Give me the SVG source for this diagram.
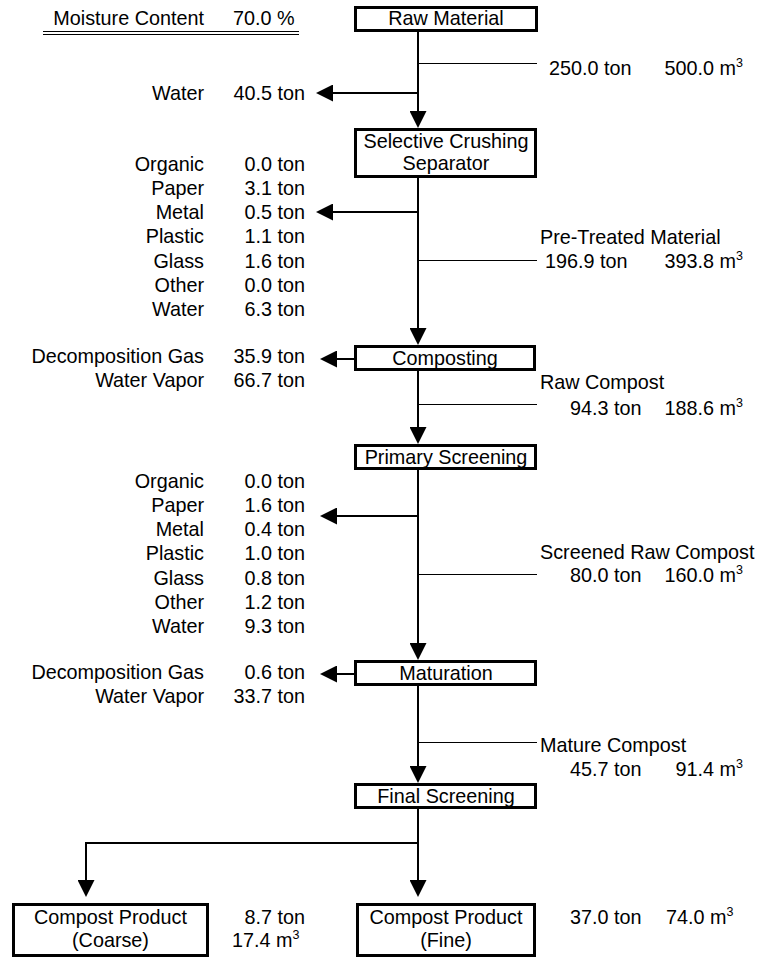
<svg xmlns="http://www.w3.org/2000/svg" width="758" height="959" viewBox="0 0 758 959">
<style>
text{font-family:"Liberation Sans",Arial,sans-serif;font-size:19.8px;fill:#000}
.r{text-anchor:end}
.m{text-anchor:middle}
.box{fill:#fff;stroke:#000;stroke-width:3}
.flow{fill:none;stroke:#000;stroke-width:2}
.thin{fill:none;stroke:#000;stroke-width:1}
.sup{font-size:12.5px}
</style>
<defs>
<marker id="ah" viewBox="0 0 17 17" refX="15" refY="8.5" markerWidth="17" markerHeight="17" markerUnits="userSpaceOnUse" orient="auto">
<path d="M0,0 L17,8.5 L0,17 z" fill="#000"/>
</marker>
</defs>

<g id="connectors">
<path class="flow" d="M418,32 V126" marker-end="url(#ah)"/>
<path class="flow" d="M418,178 V343" marker-end="url(#ah)"/>
<path class="flow" d="M418,371 V442" marker-end="url(#ah)"/>
<path class="flow" d="M418,470 V658" marker-end="url(#ah)"/>
<path class="flow" d="M418,686 V781" marker-end="url(#ah)"/>
<path class="flow" d="M418,809 V895" marker-end="url(#ah)"/>
<path class="flow" d="M418,843 H86 V895" marker-end="url(#ah)"/>
<path class="flow" d="M418,93 H318" marker-end="url(#ah)"/>
<path class="flow" d="M418,212 H318" marker-end="url(#ah)"/>
<path class="flow" d="M354,359 H322" marker-end="url(#ah)"/>
<path class="flow" d="M418,516 H322" marker-end="url(#ah)"/>
<path class="flow" d="M354,674 H322" marker-end="url(#ah)"/>
<path class="thin" d="M418,63.5 H537"/>
<path class="thin" d="M418,260.5 H537"/>
<path class="thin" d="M418,404.5 H537"/>
<path class="thin" d="M418,574.5 H537"/>
<path class="thin" d="M418,742.5 H537"/>
</g>

<g id="moisture">
<text x="204" y="25" class="r">Moisture Content</text>
<text x="233" y="25">70.0 %</text>
<path d="M43,31.5 H299 M43,34.5 H299" stroke="#000" stroke-width="1" fill="none"/>
</g>

<g id="raw-material">
<rect class="box" x="355.5" y="7.5" width="181" height="23"/>
<text x="446" y="25" class="m">Raw Material</text>
</g>
<g id="raw-material-flow">
<text x="549" y="75">250.0 ton</text>
<text x="664.5" y="75">500.0 m<tspan class="sup" dy="-8">3</tspan></text>
</g>
<g id="water-out">
<text x="204" y="100" class="r">Water</text>
<text x="305" y="100" class="r">40.5 ton</text>
</g>

<g id="selective-crushing">
<rect class="box" x="355.5" y="129.5" width="180" height="47"/>
<text x="446" y="148" class="m">Selective Crushing</text>
<text x="446" y="170" class="m">Separator</text>
</g>
<g id="selective-out">
<text x="204" y="171" class="r">Organic</text><text x="305" y="171" class="r">0.0 ton</text>
<text x="204" y="195" class="r">Paper</text><text x="305" y="195" class="r">3.1 ton</text>
<text x="204" y="219" class="r">Metal</text><text x="305" y="219" class="r">0.5 ton</text>
<text x="204" y="243" class="r">Plastic</text><text x="305" y="243" class="r">1.1 ton</text>
<text x="204" y="268" class="r">Glass</text><text x="305" y="268" class="r">1.6 ton</text>
<text x="204" y="292" class="r">Other</text><text x="305" y="292" class="r">0.0 ton</text>
<text x="204" y="316" class="r">Water</text><text x="305" y="316" class="r">6.3 ton</text>
</g>
<g id="pre-treated">
<text x="540" y="244">Pre-Treated Material</text>
<text x="545" y="268">196.9 ton</text>
<text x="664.5" y="268">393.8 m<tspan class="sup" dy="-8">3</tspan></text>
</g>

<g id="composting">
<rect class="box" x="355.5" y="346.5" width="179" height="23"/>
<text x="445" y="365" class="m">Composting</text>
</g>
<g id="composting-out">
<text x="204" y="363" class="r">Decomposition Gas</text><text x="305" y="363" class="r">35.9 ton</text>
<text x="204" y="387" class="r">Water Vapor</text><text x="305" y="387" class="r">66.7 ton</text>
</g>
<g id="raw-compost">
<text x="540" y="389">Raw Compost</text>
<text x="570" y="415">94.3 ton</text>
<text x="664.5" y="415">188.6 m<tspan class="sup" dy="-8">3</tspan></text>
</g>

<g id="primary-screening">
<rect class="box" x="355.5" y="445.5" width="180" height="23"/>
<text x="446" y="464" class="m">Primary Screening</text>
</g>
<g id="primary-out">
<text x="204" y="488" class="r">Organic</text><text x="305" y="488" class="r">0.0 ton</text>
<text x="204" y="512" class="r">Paper</text><text x="305" y="512" class="r">1.6 ton</text>
<text x="204" y="536" class="r">Metal</text><text x="305" y="536" class="r">0.4 ton</text>
<text x="204" y="560" class="r">Plastic</text><text x="305" y="560" class="r">1.0 ton</text>
<text x="204" y="585" class="r">Glass</text><text x="305" y="585" class="r">0.8 ton</text>
<text x="204" y="609" class="r">Other</text><text x="305" y="609" class="r">1.2 ton</text>
<text x="204" y="633" class="r">Water</text><text x="305" y="633" class="r">9.3 ton</text>
</g>
<g id="screened-raw-compost">
<text x="540" y="559">Screened Raw Compost</text>
<text x="570" y="582">80.0 ton</text>
<text x="664.5" y="582">160.0 m<tspan class="sup" dy="-8">3</tspan></text>
</g>

<g id="maturation">
<rect class="box" x="355.5" y="661.5" width="180" height="23"/>
<text x="446" y="680" class="m">Maturation</text>
</g>
<g id="maturation-out">
<text x="204" y="679" class="r">Decomposition Gas</text><text x="305" y="679" class="r">0.6 ton</text>
<text x="204" y="703" class="r">Water Vapor</text><text x="305" y="703" class="r">33.7 ton</text>
</g>
<g id="mature-compost">
<text x="540" y="752">Mature Compost</text>
<text x="570" y="776">45.7 ton</text>
<text x="675.5" y="776">91.4 m<tspan class="sup" dy="-8">3</tspan></text>
</g>

<g id="final-screening">
<rect class="box" x="355.5" y="784.5" width="180" height="23"/>
<text x="446" y="803" class="m">Final Screening</text>
</g>

<g id="product-coarse">
<rect class="box" x="13.5" y="904.5" width="194" height="51"/>
<text x="110.5" y="924" class="m">Compost Product</text>
<text x="110.5" y="947" class="m">(Coarse)</text>
<text x="305" y="924" class="r">8.7 ton</text>
<text x="232" y="947">17.4 m<tspan class="sup" dy="-8">3</tspan></text>
</g>

<g id="product-fine">
<rect class="box" x="357.5" y="904.5" width="177" height="51"/>
<text x="446" y="924" class="m">Compost Product</text>
<text x="446" y="947" class="m">(Fine)</text>
<text x="570" y="924">37.0 ton</text>
<text x="666" y="924">74.0 m<tspan class="sup" dy="-8">3</tspan></text>
</g>
</svg>
